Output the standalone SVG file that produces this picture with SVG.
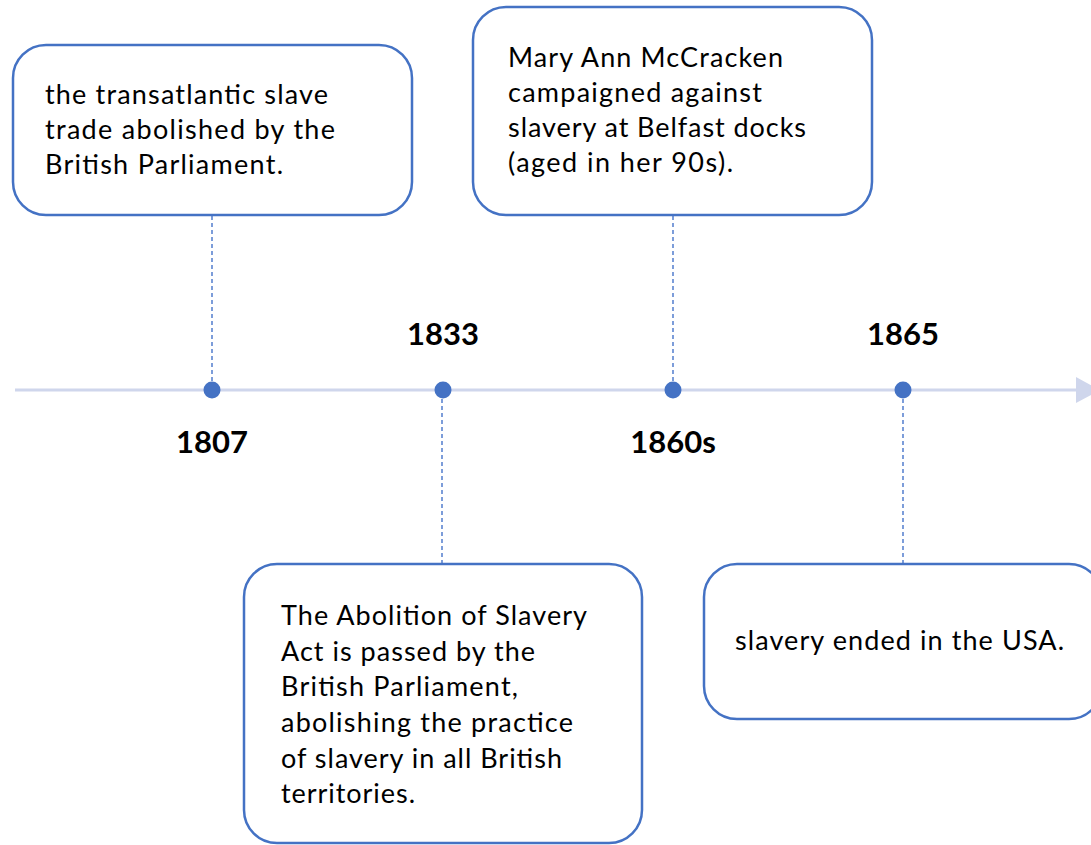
<svg xmlns="http://www.w3.org/2000/svg" width="1091" height="845" viewBox="0 0 1091 845">
<style>
.box{fill:#ffffff;stroke:#4472c4;stroke-width:2.5}
.t{font-family:Lato,"Liberation Sans",sans-serif;font-size:27px;fill:#000}
.y{font-family:Lato,"Liberation Sans",sans-serif;font-size:31px;font-weight:bold;fill:#000;text-anchor:middle}
.dash{stroke:#6f93d6;stroke-width:1.8;stroke-dasharray:4 3;fill:none}
.dot{fill:#4472c4}
</style>
<rect width="1091" height="845" fill="#ffffff"/>
<g id="timeline">
<line x1="15" y1="390" x2="1077" y2="390" stroke="#cfd6ec" stroke-width="3"/>
<polygon points="1076,377 1100,390 1076,403" fill="#cfd6ec"/>
</g>
<g id="connectors">
<line class="dash" x1="212" y1="216" x2="212" y2="382"/>
<line class="dash" x1="673" y1="216" x2="673" y2="382"/>
<line class="dash" x1="442" y1="399" x2="442" y2="564"/>
<line class="dash" x1="903" y1="399" x2="903" y2="564"/>
</g>
<g id="e1807">
<circle class="dot" cx="212" cy="390" r="8.5"/>
<text class="y" x="212" y="453">1807</text>
<rect class="box" x="13" y="45" width="399" height="170" rx="33"/>
<text class="t" x="45" y="104" textLength="283">the transatlantic slave</text>
<text class="t" x="45" y="139" textLength="290">trade abolished by the</text>
<text class="t" x="45" y="174" textLength="238">British Parliament.</text>
</g>
<g id="e1833">
<circle class="dot" cx="443" cy="390" r="8.5"/>
<text class="y" x="443" y="345">1833</text>
<rect class="box" x="244" y="564" width="398" height="279" rx="33"/>
<text class="t" x="281" y="625" textLength="306">The Abolition of Slavery</text>
<text class="t" x="281" y="661" textLength="254">Act is passed by the</text>
<text class="t" x="281" y="696" textLength="237">British Parliament,</text>
<text class="t" x="281" y="732" textLength="292">abolishing the practice</text>
<text class="t" x="281" y="768" textLength="281">of slavery in all British</text>
<text class="t" x="281" y="803" textLength="134">territories.</text>
</g>
<g id="e1860s">
<circle class="dot" cx="673" cy="390" r="8.5"/>
<text class="y" x="673" y="453">1860s</text>
<rect class="box" x="473" y="7" width="399" height="208" rx="33"/>
<text class="t" x="508" y="67" textLength="275">Mary Ann McCracken</text>
<text class="t" x="508" y="102" textLength="254">campaigned against</text>
<text class="t" x="508" y="137" textLength="298">slavery at Belfast docks</text>
<text class="t" x="508" y="172" textLength="225">(aged in her 90s).</text>
</g>
<g id="e1865">
<circle class="dot" cx="903" cy="390" r="8.5"/>
<text class="y" x="903" y="345">1865</text>
<rect class="box" x="704" y="564" width="398" height="155" rx="33"/>
<text class="t" x="735" y="650" textLength="329">slavery ended in the USA.</text>
</g>
</svg>
